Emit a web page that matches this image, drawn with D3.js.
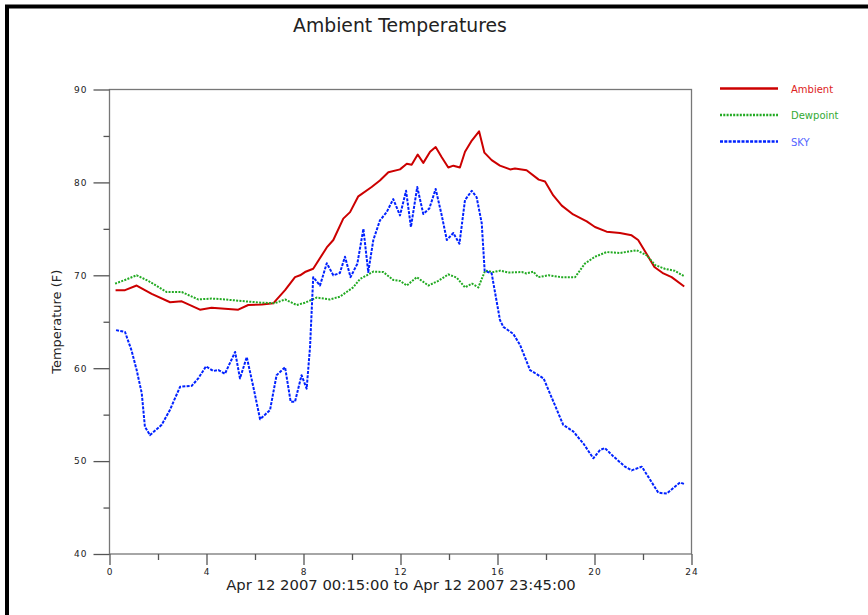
<!DOCTYPE html>
<html>
<head>
<meta charset="utf-8">
<script src="https://cdn.jsdelivr.net/npm/d3@7"></script>
<style>
  body { margin: 0; background: #fff; }
  text { font-family: "DejaVu Sans", Verdana, sans-serif; }
</style>
</head>
<body>
<div id="vis"></div>
<script>
// values (hour of day, deg F)
const ambientHours = [0.25,0.64,1.12,1.74,2.5,2.98,3.73,4.21,4.76,5.31,5.72,6.28,6.76,7.24,7.65,7.86,8.06,8.4,8.96,9.23,9.64,9.92,10.26,10.81,11.15,11.5,11.98,12.26,12.46,12.71,12.94,13.22,13.45,13.7,13.97,14.18,14.45,14.66,14.94,15.24,15.46,15.76,16.1,16.52,16.72,17.2,17.7,17.96,18.3,18.65,19.12,19.68,20.02,20.5,21.05,21.53,21.8,22.15,22.47,22.84,23.18,23.7];
const ambientTemps = [68.4,68.4,68.9,68.0,67.1,67.2,66.3,66.5,66.4,66.3,66.8,66.85,67.0,68.4,69.8,70.0,70.35,70.7,73.0,73.8,76.1,76.8,78.5,79.5,80.2,81.1,81.4,82.0,81.9,83.0,82.1,83.3,83.8,82.7,81.6,81.8,81.6,83.3,84.5,85.5,83.2,82.4,81.8,81.4,81.5,81.3,80.3,80.1,78.6,77.5,76.55,75.8,75.2,74.7,74.55,74.3,73.8,72.3,70.9,70.2,69.8,68.8];

const dewHours = [0.23,0.64,1.12,1.6,2.36,2.98,3.66,4.21,4.76,5.59,6.28,6.82,7.24,7.72,8.06,8.54,9.09,9.5,10.05,10.33,10.88,11.29,11.7,11.98,12.26,12.67,13.15,13.56,13.97,14.32,14.66,14.95,15.21,15.49,15.83,16.1,16.45,17.0,17.2,17.48,17.68,18.1,18.65,19.2,19.6,20.02,20.5,21.05,21.74,22.15,22.5,22.9,23.3,23.7];
const dewTemps = [69.1,69.5,70.0,69.4,68.2,68.2,67.4,67.5,67.4,67.2,67.05,67.0,67.4,66.8,67.05,67.6,67.4,67.7,68.7,69.6,70.4,70.35,69.5,69.4,68.9,69.8,68.9,69.4,70.1,69.75,68.7,69.1,68.7,70.5,70.35,70.5,70.3,70.35,70.2,70.4,69.8,70.0,69.8,69.8,71.25,72.0,72.5,72.4,72.7,72.15,71.1,70.7,70.5,69.9];

const skyHours = [0.27,0.64,0.91,1.12,1.33,1.46,1.67,2.15,2.49,2.91,3.39,3.66,3.98,4.28,4.49,4.76,5.18,5.38,5.66,5.93,6.21,6.62,6.89,7.24,7.47,7.65,7.92,8.13,8.27,8.4,8.68,8.96,9.23,9.5,9.71,9.94,10.22,10.47,10.67,10.88,11.15,11.43,11.7,11.98,12.23,12.43,12.69,12.94,13.19,13.45,13.7,13.91,14.18,14.43,14.66,14.94,15.14,15.35,15.47,15.76,16.1,16.24,16.65,16.93,17.34,17.9,18.16,18.71,19.12,19.54,19.95,20.23,20.43,20.78,21.26,21.53,21.95,22.22,22.63,22.98,23.25,23.53,23.73];
const skyTemps = [64.1,63.9,61.9,59.8,57.3,53.7,52.8,53.9,55.5,58.0,58.1,58.9,60.2,59.7,59.8,59.4,61.75,58.9,61.2,58.0,54.5,55.5,59.25,60.1,56.4,56.4,59.25,57.8,62.3,69.8,68.9,71.3,70.0,70.25,72.0,69.8,71.25,75.0,70.35,73.8,75.9,76.8,78.2,76.45,79.1,75.2,79.5,76.6,77.2,79.3,76.45,73.8,74.55,73.4,78.1,79.1,78.4,75.6,70.5,70.2,65.2,64.45,63.7,62.5,59.8,58.9,57.3,53.9,53.2,51.9,50.3,51.2,51.4,50.5,49.4,49.0,49.4,48.3,46.6,46.5,47.1,47.7,47.5];

const xTicks = [0, 4, 8, 12, 16, 20, 24];
const xMinorTicks = [2, 6, 10, 14, 18, 22];
const yTicks = [40, 50, 60, 70, 80, 90];
const yMinorTicks = [45, 55, 65, 75, 85];

const seriesNames = ["Ambient", "Dewpoint", "SKY"];
const seriesColors = ["#cc0000", "#22aa22", "#0022ff"];
const legendTextColors = ["#dd2222", "#33aa33", "#5566ff"];

const width = 868, height = 615;
const margin = {left: 109.5, right: 176.5, top: 89.5, bottom: 61};

const svg = d3.select("#vis")
    .append("svg")
    .attr("width", width)
    .attr("height", height);

svg.append("rect")
    .attr("width", width)
    .attr("height", height)
    .attr("fill", "#fff");

// outer frame (cropped at right / bottom in the original)
svg.append("rect")
    .attr("x", 7)
    .attr("y", 6.5)
    .attr("width", width + 20)
    .attr("height", height + 20)
    .attr("fill", "none")
    .attr("stroke", "#000")
    .attr("stroke-width", 4);

const x = d3.scaleLinear().domain([0, 24]).range([margin.left, width - margin.right]);
const y = d3.scaleLinear().domain([40, 90]).range([height - margin.bottom, margin.top]);

const axisColor = "#777";

// plot box
svg.append("rect")
    .attr("x", x(0))
    .attr("y", y(90))
    .attr("width", x(24) - x(0))
    .attr("height", y(40) - y(90))
    .attr("fill", "none")
    .attr("stroke", axisColor)
    .attr("stroke-width", 1.3);

// x axis
svg.append("g")
    .attr("transform", `translate(0,${y(40)})`)
    .call(d3.axisBottom(x).tickValues(xTicks).tickSize(11).tickPadding(4));
svg.append("g")
    .attr("transform", `translate(0,${y(40)})`)
    .call(d3.axisBottom(x).tickValues(xMinorTicks).tickSize(6).tickFormat(""));

// y axis
svg.append("g")
    .attr("transform", `translate(${x(0)},0)`)
    .call(d3.axisLeft(y).tickValues(yTicks).tickSize(16).tickPadding(6));
svg.append("g")
    .attr("transform", `translate(${x(0)},0)`)
    .call(d3.axisLeft(y).tickValues(yMinorTicks).tickSize(6).tickFormat(""));

svg.selectAll(".domain").remove();
svg.selectAll(".tick line").attr("stroke", "#555").attr("stroke-width", 1.3);
svg.selectAll(".tick text")
    .attr("fill", "#222")
    .style("font-size", "9px")
    .style("letter-spacing", "1px");

// lines
const line = d3.line()
    .x(d => x(d[0]))
    .y(d => y(d[1]));

const series = [
    d3.zip(ambientHours, ambientTemps),
    d3.zip(dewHours, dewTemps),
    d3.zip(skyHours, skyTemps)
];
const dashes = [null, "2,1.3", "3,1.3"];

series.forEach((pts, i) => {
    svg.append("path")
        .datum(pts)
        .attr("d", line)
        .attr("fill", "none")
        .attr("stroke", seriesColors[i])
        .attr("stroke-width", 2)
        .attr("stroke-linejoin", "round")
        .attr("stroke-dasharray", dashes[i]);
});

// legend
seriesNames.forEach((name, i) => {
    const ly = 88.5 + i * 26.5;
    svg.append("line")
        .attr("x1", 720)
        .attr("x2", 778)
        .attr("y1", ly)
        .attr("y2", ly)
        .attr("stroke", seriesColors[i])
        .attr("stroke-width", 2.5)
        .attr("stroke-dasharray", dashes[i]);
    svg.append("text")
        .attr("x", 791)
        .attr("y", ly + 4)
        .attr("fill", legendTextColors[i])
        .style("font-size", "10px")
        .text(name);
});

// titles
svg.append("text")
    .attr("x", 400)
    .attr("y", 32)
    .attr("text-anchor", "middle")
    .attr("fill", "#222")
    .style("font-size", "18.8px")
    .text("Ambient Temperatures");

svg.append("text")
    .attr("x", 401)
    .attr("y", 590)
    .attr("text-anchor", "middle")
    .attr("fill", "#222")
    .style("font-size", "14.8px")
    .text("Apr 12 2007 00:15:00 to Apr 12 2007 23:45:00");

svg.append("text")
    .attr("transform", `translate(61,${(y(40) + y(90)) / 2}) rotate(-90)`)
    .attr("text-anchor", "middle")
    .attr("fill", "#222")
    .style("font-size", "13px")
    .text("Temperature (F)");
</script>
</body>
</html>
